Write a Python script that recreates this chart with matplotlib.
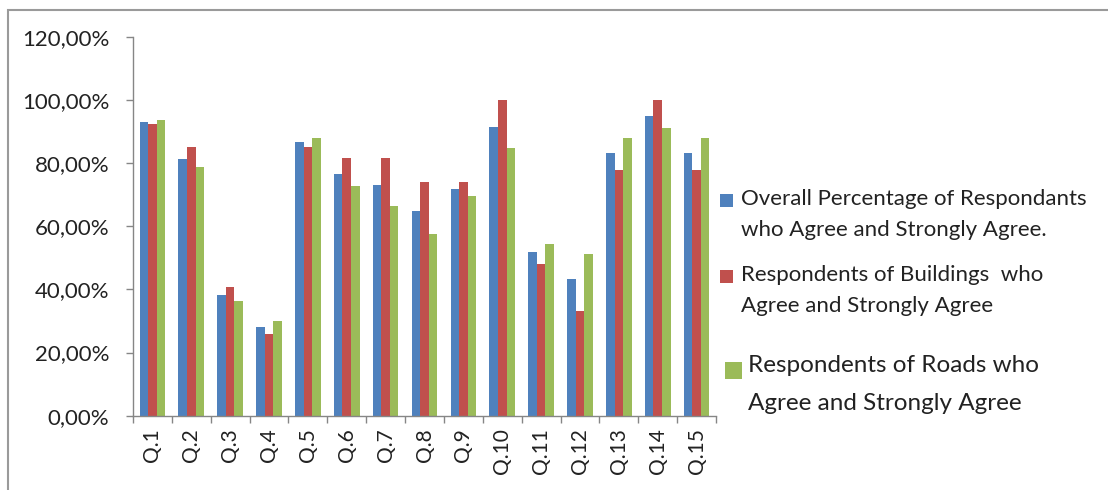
import numpy as np
import matplotlib.pyplot as plt
from matplotlib.ticker import FuncFormatter, FixedLocator

plt.rcParams['font.family'] = ['Lato', 'DejaVu Sans']

questions = ["Q.1", "Q.2", "Q.3", "Q.4", "Q.5", "Q.6", "Q.7", "Q.8",
             "Q.9", "Q.10", "Q.11", "Q.12", "Q.13", "Q.14", "Q.15"]

overall = [93.1, 81.4, 38.1, 28.2, 86.6, 76.5, 73.2, 64.7,
           71.7, 91.3, 51.7, 43.4, 83.1, 94.8, 83.1]
buildings = [92.3, 85.0, 40.7, 25.9, 85.0, 81.5, 81.5, 74.1,
             74.1, 100.0, 48.1, 33.3, 77.8, 100.0, 77.8]
roads = [93.6, 78.8, 36.3, 29.9, 87.9, 72.6, 66.5, 57.4,
         69.6, 84.9, 54.3, 51.2, 87.9, 91.0, 87.9]

labels = ["Overall Percentage of Respondants\nwho Agree and Strongly Agree.",
          "Respondents of Buildings  who\nAgree and Strongly Agree",
          "Respondents of Roads who\nAgree and Strongly Agree"]
colors = ["#4F81BD", "#C0504D", "#9BBB59"]
axis_col = "#868686"
txt_col = "#222222"

fig = plt.figure(figsize=(11.08, 4.9), dpi=100)
ax = fig.add_axes([133 / 1108, 74.3 / 490, 583 / 1108, 379 / 490])

x = np.arange(len(questions))
w = 0.22
for i, vals in enumerate([overall, buildings, roads]):
    ax.bar(x + (i - 1) * w, vals, w, color=colors[i], linewidth=0)

ax.set_xlim(-0.5, len(questions) - 0.5)
ax.set_ylim(0, 120)
ax.set_yticks(np.arange(0, 121, 20))
ax.yaxis.set_major_formatter(FuncFormatter(lambda v, p: f"{v:.2f}".replace(".", ",") + "%"))

ax.set_xticks(x)
ax.set_xticklabels(questions, rotation=90)
ax.xaxis.set_minor_locator(FixedLocator(np.arange(-0.5, len(questions), 1)))
ax.tick_params(axis="x", which="major", length=0, pad=9, labelsize=15, labelcolor=txt_col)
ax.tick_params(axis="x", which="minor", length=5, width=1, color=axis_col, direction="out")
ax.tick_params(axis="y", length=5, width=1, color=axis_col, pad=12, labelsize=16, labelcolor=txt_col)

for s in ["top", "right"]:
    ax.spines[s].set_visible(False)
for s in ["left", "bottom"]:
    ax.spines[s].set_color(axis_col)
    ax.spines[s].set_linewidth(1)

# outer chart frame (only left and top edges fall inside the image)
fig.add_artist(plt.Rectangle((8 / 1108, -0.5), 2, 0.5 + 1 - 10 / 490,
                             transform=fig.transFigure, fill=False,
                             edgecolor="#9a9a9a", linewidth=1.5))

# legend drawn by hand
W, H = 1108, 490
leg = [
    (720, 200, 741, 199, 230, 13, 16),
    (720, 276, 741, 275, 306, 13, 16),
    (725, 370, 748, 366, 403, 17, 17.5),
]
for (sx, sy, tx, y1, y2, sz, fs), lab, c in zip(leg, labels, colors):
    fig.add_artist(plt.Rectangle((sx / W, 1 - (sy + sz / 2) / H), sz / W, sz / H,
                                 transform=fig.transFigure, color=c, lw=0))
    l1, l2 = lab.split("\n")
    fig.text(tx / W, 1 - y1 / H, l1, fontsize=fs, va="center", ha="left", color=txt_col)
    fig.text(tx / W, 1 - y2 / H, l2, fontsize=fs, va="center", ha="left", color=txt_col)

fig.savefig("out.png", dpi=100)
